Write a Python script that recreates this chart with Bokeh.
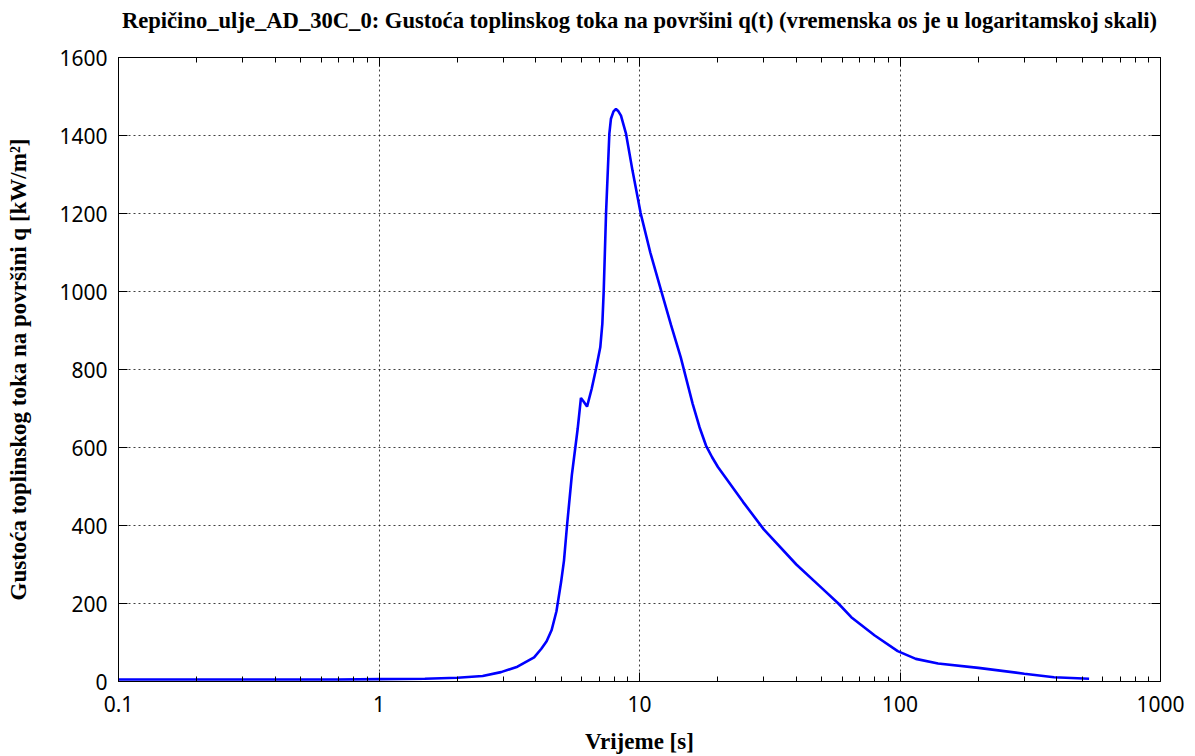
from bokeh.plotting import figure
from bokeh.models import Range1d, FixedTicker, CustomJSTickFormatter, LogAxis, LinearAxis
from bokeh.embed import file_html
from bokeh.resources import INLINE

# time [s]
t = [0.1, 0.2, 0.3, 0.5, 0.7, 1.0, 1.5, 2.0, 2.5, 2.94, 3.4, 3.94, 4.2, 4.4,
     4.6, 4.8, 5.0, 5.13, 5.27, 5.5, 5.79, 5.96, 6.1, 6.29, 6.55, 6.81, 7.07,
     7.2, 7.29, 7.44, 7.66, 7.77, 7.95, 8.12, 8.3, 8.49, 8.88, 9.4, 10.1,
     11.0, 12.1, 13.2, 14.4, 16.0, 17.0, 18.0, 19.0, 20.0, 25.0, 30.0, 40.0,
     50.0, 58.0, 65.0, 80.0, 98.0, 115.0, 140.0, 200.0, 300.0, 390.0, 532.0]
# heat flux density [kW/m2]
q = [5, 5, 5, 5, 5, 6, 7, 9.5, 14, 24, 38, 62, 84, 103,
     132, 180, 255, 310, 400, 530, 648, 727, 718, 705, 750, 802, 857,
     917, 1003, 1201, 1404, 1443, 1462, 1468, 1462, 1451, 1404, 1310, 1201,
     1100, 1003, 915, 831, 712, 652, 605, 575, 550, 460, 390, 300,
     240, 200, 165, 118, 78, 58, 46, 35, 20, 11, 7]

x_major = [0.1, 1, 10, 100, 1000]
x_labels = ["0.1", "1", "10", "100", "1000"]
y_major = [0, 200, 400, 600, 800, 1000, 1200, 1400, 1600]

title = "Repičino_ulje_AD_30C_0: Gustoća toplinskog toka na površini q(t) (vremenska os je u logaritamskoj skali)"
x_title = "Vrijeme [s]"
y_title = "Gustoća toplinskog toka na površini q [kW/m²]"

x_minor = [m * d for d in (0.1, 1, 10, 100) for m in range(2, 10)]

p = figure(width=1190, height=756, x_axis_type="log",
           x_range=Range1d(0.1, 1000), y_range=Range1d(0, 1600),
           output_backend="svg", toolbar_location=None,
           min_border_left=118, min_border_right=30,
           min_border_top=57, min_border_bottom=75)

p.line(t, q, line_color="#0000ff", line_width=2.6)

xt = FixedTicker(ticks=x_major, minor_ticks=x_minor)
yt = FixedTicker(ticks=y_major)
fmt = CustomJSTickFormatter(args=dict(lbls=x_labels, majors=x_major), code="""
for (let i = 0; i < majors.length; i++) { if (Math.abs(Math.log10(tick) - Math.log10(majors[i])) < 1e-6) return lbls[i]; }
return '';
""")

def style(ax, labels=True):
    ax.axis_line_color = "black"
    ax.axis_line_width = 1
    ax.major_tick_in = 9
    ax.major_tick_out = 0
    ax.minor_tick_in = 5
    ax.minor_tick_out = 0
    ax.major_tick_line_color = "black"
    ax.minor_tick_line_color = "black"
    ax.axis_label_text_font = "Liberation Serif"
    ax.axis_label_text_font_style = "bold"
    ax.axis_label_text_font_size = "23px"
    ax.axis_label_text_color = "black"
    if labels:
        ax.major_label_text_font = "Noto Sans"
        ax.major_label_text_font_size = "21px"
        ax.major_label_text_color = "black"
    else:
        ax.major_label_text_font_size = "0px"
        ax.major_label_text_color = None
        ax.major_label_standoff = 0

xa = p.xaxis[0]
xa.ticker = xt
xa.formatter = fmt
xa.axis_label = x_title
style(xa)
xa.major_label_standoff = 14
xa.axis_label_standoff = 14

ya = p.yaxis[0]
ya.ticker = yt
ya.axis_label = y_title
style(ya)
ya.minor_tick_line_color = None
ya.major_label_standoff = 11
ya.axis_label_standoff = 25

# top border (mirrored ticks) carries the chart title as its label
top = LogAxis(ticker=FixedTicker(ticks=x_major, minor_ticks=x_minor))
style(top, labels=False)
top.axis_label = title
top.axis_label_text_font_size = "22.6px"
top.axis_label_standoff = 25
p.add_layout(top, "above")

right = LinearAxis(ticker=FixedTicker(ticks=y_major))
style(right, labels=False)
right.minor_tick_line_color = None
p.add_layout(right, "right")

for g in (p.xgrid[0], p.ygrid[0]):
    g.grid_line_color = "black"
    g.grid_line_alpha = 0.75
    g.grid_line_dash = "2 3"
    g.grid_line_width = 1
p.xgrid[0].ticker = FixedTicker(ticks=x_major)
p.ygrid[0].ticker = yt

p.outline_line_color = "black"
p.outline_line_width = 1
p.background_fill_color = "white"
p.border_fill_color = "white"

open("out.html", "w").write(file_html(p, INLINE))
